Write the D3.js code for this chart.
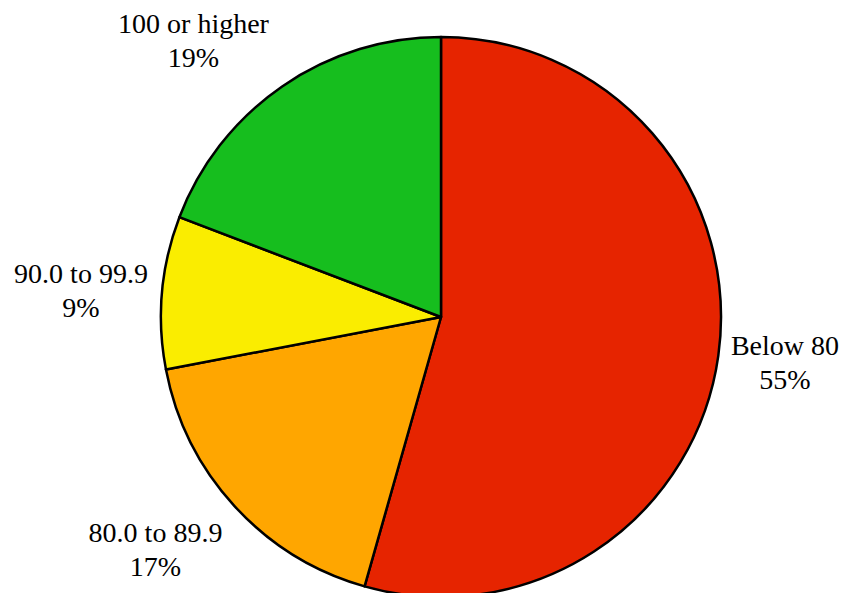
<!DOCTYPE html>
<html>
<head>
<meta charset="utf-8">
<script src="https://cdn.jsdelivr.net/npm/d3@7"></script>
<style>
  html, body { margin: 0; padding: 0; background: #ffffff; }
  svg { display: block; }
</style>
</head>
<body>
<svg id="chart" width="848" height="593"></svg>
<script>
// ---- data ----
const categories = ["Below 80", "80.0 to 89.9", "90.0 to 99.9", "100 or higher"];
const values = [54.4, 17.6, 8.8, 19.2];
const percentLabels = ["55%", "17%", "9%", "19%"];
const colors = ["#E62400", "#FFA600", "#FAED00", "#16BE1E"];

// ---- layout ----
const width = 848, height = 593;
const cx = 441, cy = 317, radius = 280;
// label block centres (x) and first baseline (y), relative to the pie centre
const labelOffsets = [
  { dx: 344, dy: 38 },
  { dx: -285.5, dy: 225 },
  { dx: -360, dy: -34 },
  { dx: -247.5, dy: -284 }
];
const lineGap = 33.5;

const svg = d3.select("#chart");
const g = svg.append("g").attr("transform", `translate(${cx},${cy})`);

const pie = d3.pie().sort(null).value(d => d.value).startAngle(0).endAngle(2 * Math.PI);
const arc = d3.arc().innerRadius(0).outerRadius(radius);

const data = categories.map((c, i) => ({ name: c, value: values[i], pct: percentLabels[i], color: colors[i], off: labelOffsets[i] }));
const arcs = pie(data);

g.selectAll("path.slice")
  .data(arcs)
  .join("path")
  .attr("class", "slice")
  .attr("d", arc)
  .attr("fill", d => d.data.color)
  .attr("stroke", "#000")
  .attr("stroke-width", 2.5)
  .attr("stroke-linejoin", "round");

const labels = g.selectAll("text.lbl")
  .data(arcs)
  .join("text")
  .attr("class", "lbl")
  .attr("text-anchor", "middle")
  .style("font-family", "'Liberation Serif', serif")
  .attr("font-size", 28)
  .attr("fill", "#000");

labels.append("tspan")
  .attr("x", d => d.data.off.dx)
  .attr("y", d => d.data.off.dy)
  .text(d => d.data.name);
labels.append("tspan")
  .attr("x", d => d.data.off.dx)
  .attr("y", d => d.data.off.dy + lineGap)
  .text(d => d.data.pct);
</script>
</body>
</html>
